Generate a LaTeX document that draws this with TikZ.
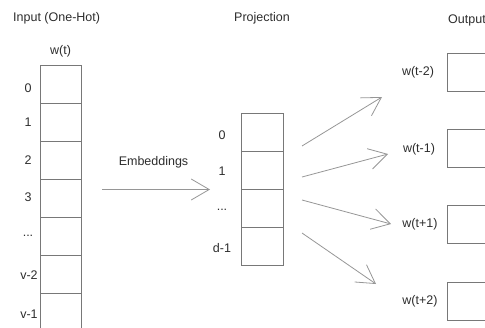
\documentclass[tikz,border=0pt]{standalone}
\usepackage{fontspec}
\setmainfont{Liberation Sans}
\usetikzlibrary{arrows.meta}
\definecolor{boxgray}{RGB}{120,120,120}
\definecolor{arrgray}{RGB}{150,150,150}
\definecolor{txtgray}{RGB}{45,45,45}
\tikzset{
  cell/.style={draw=boxgray, line width=1pt, minimum width=41pt, minimum height=38pt, inner sep=0pt, outer sep=0pt},
  pcell/.style={draw=boxgray, line width=1pt, minimum width=42pt, minimum height=38pt, inner sep=0pt, outer sep=0pt},
  obox/.style={draw=boxgray, line width=1pt, minimum width=80pt, minimum height=38pt, inner sep=0pt, outer sep=0pt},
  lbl/.style={text=txtgray, font=\fontsize{12.5}{14}\selectfont, inner sep=0pt},
  conn/.style={draw=arrgray, line width=0.8pt, -{Straight Barb[length=18pt, width=21pt, line width=0.8pt]}},
}
\begin{document}
\begin{tikzpicture}[x=1pt, y=-1pt]
\useasboundingbox (0,0) rectangle (485,327);
\clip (0,0) rectangle (485,327);

% titles
\node[lbl, anchor=west] (tin) at (13,18) {Input (One-Hot)};
\node[lbl] (tproj) at (262,18) {Projection};
\node[lbl, anchor=west] (tout) at (448,20) {Output};

% input column
\node[lbl] (wt) at (60.5,51) {w(t)};
\foreach \i in {0,1,2,3,4,5,6} {
  \node[cell] (in\i) at (60.5,{84+38*\i}) {};
}
\node[lbl] (l0) at (28,88) {0};
\node[lbl] (l1) at (28,122) {1};
\node[lbl] (l2) at (28,160) {2};
\node[lbl] (l3) at (28,197) {3};
\node[lbl] (l4) at (28,236) {...};
\node[lbl] (l5) at (29,275) {v-2};
\node[lbl] (l6) at (29,314) {v-1};

% embeddings arrow
\node[lbl] (emb) at (153.5,162) {Embeddings};
\coordinate (ea) at (102,189.5);
\coordinate (eb) at (210,189.5);
\draw[conn] (ea) -- (eb);

% projection column
\foreach \i in {0,1,2,3} {
  \node[pcell] (p\i) at (262,{132+38.3*\i}) {};
}
\node[lbl] (pl0) at (222,135) {0};
\node[lbl] (pl1) at (222,171) {1};
\node[lbl] (pl2) at (222,210) {...};
\node[lbl] (pl3) at (222,248) {d-1};

% outputs
\node[obox, anchor=north west] (o1) at (447,53.5) {};
\node[obox, anchor=north west] (o2) at (447,129.5) {};
\node[obox, anchor=north west] (o3) at (447,205.5) {};
\node[obox, anchor=north west] (o4) at (447,282) {};
\node[lbl] (ol1) at (418,72) {w(t-2)};
\node[lbl] (ol2) at (419,149) {w(t-1)};
\node[lbl] (ol3) at (420,224) {w(t+1)};
\node[lbl] (ol4) at (420,301) {w(t+2)};

% projection arrows
\coordinate (s1) at (302,146);
\coordinate (e1) at (382,97);
\coordinate (s2) at (302,177);
\coordinate (e2) at (388,154);
\coordinate (s3) at (302,200);
\coordinate (e3) at (391,224);
\coordinate (s4) at (302,233);
\coordinate (e4) at (376,284);
\draw[conn] (s1) -- (e1);
\draw[conn] (s2) -- (e2);
\draw[conn] (s3) -- (e3);
\draw[conn] (s4) -- (e4);
\end{tikzpicture}
\end{document}
